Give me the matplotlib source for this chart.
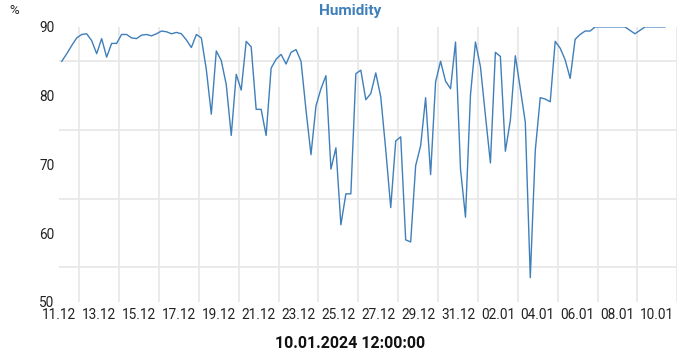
import numpy as np
import pandas as pd
import matplotlib
matplotlib.use("Agg")
import matplotlib.pyplot as plt
import matplotlib.dates as mdates

# -----------------------
# Data (6-hourly humidity readings)
# -----------------------

start_time = "2023-12-11 03:00"
step = "6h"

humidity = [
    85.0, 86.1, 87.3, 88.4, 88.9, 89.0, 88.0, 86.1, 88.3, 85.6, 87.6, 87.6, 88.9, 88.9, 88.4, 88.3, 88.8, 88.9, 88.7, 89.0, 89.4,
    89.3, 89.0, 89.2, 89.0, 88.1, 87.0, 88.9, 88.4, 83.8, 77.3, 86.5, 85.1, 81.6, 74.2, 83.1, 80.8, 87.9, 87.1, 78.0, 78.0, 74.2,
    84.0, 85.3, 86.0, 84.6, 86.3, 86.7, 85.0, 77.9, 71.4, 78.5, 81.0, 82.9, 69.3, 72.4, 61.2, 65.7, 65.7, 83.2, 83.7, 79.4, 80.3,
    83.3, 79.8, 72.1, 63.7, 73.4, 74.0, 59.0, 58.7, 69.8, 72.7, 79.7, 68.5, 82.0, 85.0, 82.1, 81.0, 87.8, 69.3, 62.3, 80.1, 87.8,
    84.2, 77.1, 70.2, 86.3, 85.7, 71.9, 76.4, 85.8, 81.0, 76.1, 53.5, 72.0, 79.7, 79.5, 79.1, 87.9, 86.9, 85.2, 82.5, 88.2, 88.9,
    89.4, 89.4, 90.0, 90.0, 90.0, 90.0, 90.0, 90.0, 90.0, 89.5, 89.0, 89.5, 90.0, 90.0, 90.0, 90.0, 90.0,
]

times = pd.date_range(start_time, periods=len(humidity), freq=step)

x_start = pd.Timestamp("2023-12-11")
x_end = pd.Timestamp("2024-01-11")
label_days = pd.date_range("2023-12-11", "2024-01-10", freq="2D")
grid_days = pd.date_range("2023-12-11", "2024-01-11", freq="1D")
y_ticks = [50, 60, 70, 80, 90]
y_grid = [50, 55, 60, 65, 70, 75, 80, 85, 90]

title = "Humidity"
unit = "%"
footer = "10.01.2024 12:00:00"

# -----------------------
# Plot
# -----------------------

plt.rcParams["font.family"] = ["Roboto", "DejaVu Sans"]

fig = plt.figure(figsize=(7, 3.5), dpi=100)
ax = fig.add_axes([0.0847, 0.138, 0.8829, 0.7851])

ax.plot(times, humidity, color="#3f7fba", lw=1.0)

ax.set_xlim(x_start, x_end)
ax.set_ylim(50, 90)

ax.set_xticks(label_days)
ax.xaxis.set_major_formatter(mdates.DateFormatter("%d.%m"))
ax.set_xticks(grid_days, minor=True)
ax.set_yticks(y_ticks)
ax.set_yticks(y_grid, minor=True)

ax.grid(which="minor", color="#e8e8e8", lw=1.3)
ax.set_axisbelow(True)
ax.tick_params(which="both", length=0)
ax.tick_params(axis="x", pad=4.5, labelsize=9.8, labelcolor="#222222")
ax.tick_params(axis="y", pad=3.6, labelsize=9.8, labelcolor="#222222")
for s in ax.spines.values():
    s.set_visible(False)

fig.text(0.5, 1 - 11 / 350, title, ha="center", va="center",
         fontsize=11, fontweight="bold", color="#3f7fba")
fig.text(0.02, 1 - 11 / 350, unit, ha="center", va="center",
         fontsize=9.5, color="#222222")
fig.text(0.5, 1 - 343 / 350, footer, ha="center", va="center",
         fontsize=11.5, fontweight="bold", color="#111111")

fig.savefig("out.png", dpi=100)
